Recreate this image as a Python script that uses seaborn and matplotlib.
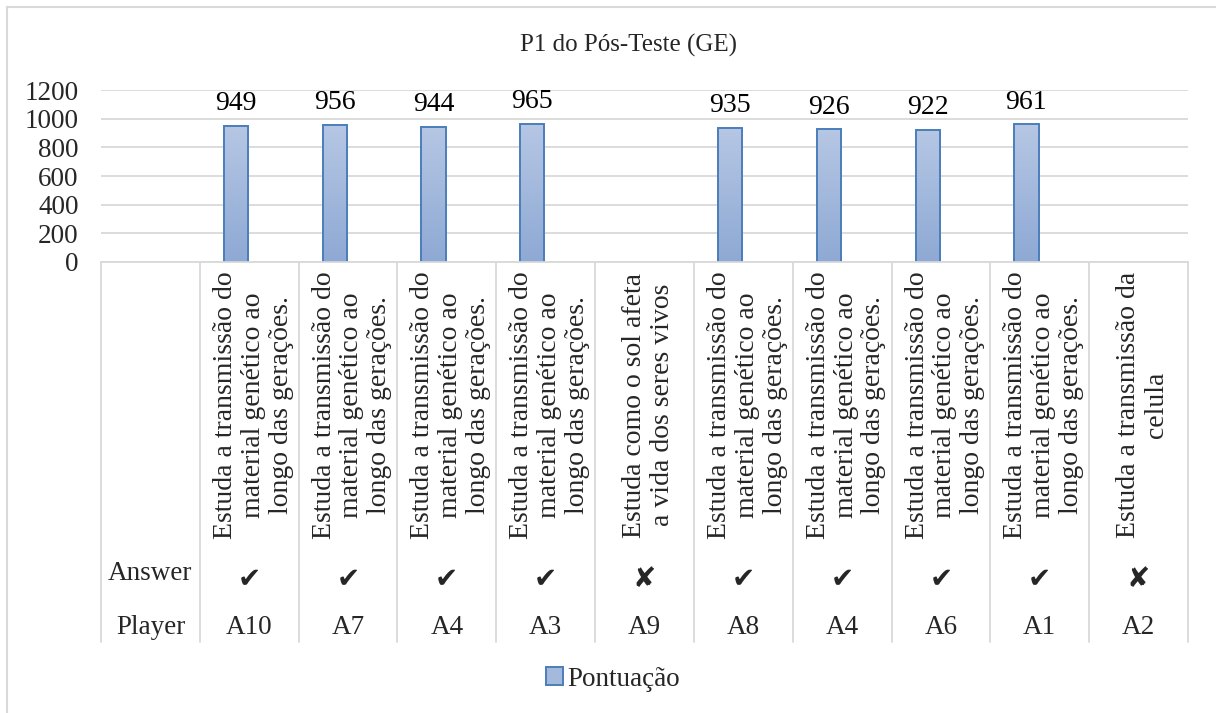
import numpy as np
import pandas as pd
import matplotlib
matplotlib.use("Agg")
import matplotlib.pyplot as plt
import matplotlib.transforms as mtransforms
from matplotlib.patches import Patch
from matplotlib.lines import Line2D
from matplotlib.colors import LinearSegmentedColormap
import seaborn as sns

# ---------------- data ----------------
title = "P1 do Pós-Teste (GE)"
row_names = ["Answer", "Player"]
players = ["A10", "A7", "A4", "A3", "A9", "A8", "A4", "A6", "A1", "A2"]
answers = [
    "Estuda a transmissão do\nmaterial genético ao\nlongo das gerações.",
    "Estuda a transmissão do\nmaterial genético ao\nlongo das gerações.",
    "Estuda a transmissão do\nmaterial genético ao\nlongo das gerações.",
    "Estuda a transmissão do\nmaterial genético ao\nlongo das gerações.",
    "Estuda como o sol afeta\na vida dos seres vivos",
    "Estuda a transmissão do\nmaterial genético ao\nlongo das gerações.",
    "Estuda a transmissão do\nmaterial genético ao\nlongo das gerações.",
    "Estuda a transmissão do\nmaterial genético ao\nlongo das gerações.",
    "Estuda a transmissão do\nmaterial genético ao\nlongo das gerações.",
    "Estuda a transmissão da\ncelula",
]
correct = [True, True, True, True, False, True, True, True, True, False]
scores = [949, 956, 944, 965, np.nan, 935, 926, 922, 961, np.nan]
series_name = "Pontuação"
yticks = [0, 200, 400, 600, 800, 1000, 1200]

# ---------------- style ----------------
W, H, DPI = 1216, 713, 100
SERIF = "Liberation Serif"
GRID = "#d9d9d9"
EDGE = "#4a7ebb"
TOP_C, BOT_C = "#b6c7e4", "#8ea9d4"
FS = 19.5

sns.set_theme(style="white")
plt.rcParams["font.family"] = [SERIF, "DejaVu Sans"]

# slot 0 is the header column (no bar)
slots = list(range(len(players) + 1))
df = pd.DataFrame({"slot": slots, "score": [np.nan] + scores})

fig = plt.figure(figsize=(W / DPI, H / DPI), dpi=DPI)
fig.patch.set_facecolor("white")

def fy(px):
    return 1 - px / H

ax_left, ax_right, ax_top, ax_bot = 101, 1188, 90, 262
ax = fig.add_axes([ax_left / W, fy(ax_bot), (ax_right - ax_left) / W, (ax_bot - ax_top) / H])

sns.barplot(data=df, x="slot", y="score", order=slots, width=0.245,
            color=BOT_C, edgecolor=EDGE, linewidth=1.4, ax=ax, errorbar=None)

ax.set_ylim(0, 1200)
ax.set_xlim(-0.5, len(slots) - 0.5)

# offset bars (Excel layout has them slightly left of the category centre)
shift = 0.135
cmap = LinearSegmentedColormap.from_list("g", [BOT_C, TOP_C])
grad = np.linspace(1, 0, 256).reshape(-1, 1)
for p in list(ax.patches):
    p.set_x(p.get_x() - shift)
    h = p.get_height()
    if np.isnan(h) or h == 0:
        continue
    x0 = p.get_x()
    im = ax.imshow(grad, cmap=cmap, extent=[x0, x0 + p.get_width(), 0, h],
                   aspect="auto", zorder=p.get_zorder() - 0.1, interpolation="bicubic")
    im.set_clip_path(p)
    p.set_facecolor("none")

ax.set_ylim(0, 1200)
ax.set_xlim(-0.5, len(slots) - 0.5)

for cont in ax.containers:
    labels = ["" if np.isnan(v) else f"{int(v)}" for v in cont.datavalues]
    ax.bar_label(cont, labels=labels, padding=7, fontsize=20, family=SERIF, color="black")

ax.set_yticks(yticks)
ax.set_yticklabels([str(t) for t in yticks], fontsize=FS, family=SERIF)
ax.tick_params(axis="y", length=0, pad=16)
ax.set_xticks([])
ax.set_xlabel("")
ax.set_ylabel("")
ax.grid(axis="y", color=GRID, linewidth=1.3)
ax.set_axisbelow(True)
for s in ["top", "right", "left"]:
    ax.spines[s].set_visible(False)
ax.spines["bottom"].set_color(GRID)
ax.spines["bottom"].set_linewidth(1.3)

# ---------------- multi-level category axis ----------------
tr = mtransforms.blended_transform_factory(ax.transData, fig.transFigure)
sep_bottom = 642
for k in range(len(slots) + 1):
    xk = k - 0.5
    fig.add_artist(Line2D([xk, xk], [fy(ax_bot), fy(sep_bottom)], transform=tr,
                          color=GRID, linewidth=1.3))

y_answer_text, y_mark, y_player = 405, 579, 627
fig.text(0, fy(574), row_names[0], transform=tr, ha="center", va="center",
         fontsize=FS, family=SERIF)
fig.text(0, fy(y_player), row_names[1], transform=tr, ha="center", va="center",
         fontsize=FS, family=SERIF)
for i, (pl, an, ok) in enumerate(zip(players, answers, correct), start=1):
    fig.text(i + 0.04, fy(y_answer_text), an, transform=tr, rotation=90,
             ha="center", va="center", multialignment="center",
             fontsize=20, family=SERIF, linespacing=1.15)
    fig.text(i, fy(y_mark), "✔" if ok else "✘", transform=tr, ha="center", va="center",
             fontsize=20, family="DejaVu Sans")
    fig.text(i, fy(y_player), pl, transform=tr, ha="center", va="center",
             fontsize=FS, family=SERIF)

# ---------------- title, legend, chart border ----------------
fig.text(628 / W, fy(45), title, ha="center", va="center", fontsize=18, family=SERIF)

handle = Patch(facecolor="#a5b9dc", edgecolor=EDGE, linewidth=1.4, label=series_name)
fig.legend(handles=[handle], loc="center", bbox_to_anchor=(613 / W, fy(679)),
           frameon=False, prop={"family": SERIF, "size": FS},
           handlelength=0.65, handleheight=0.65, handletextpad=0.15, borderpad=0)

fig.add_artist(Line2D([7 / W, 7 / W], [fy(7), 0], transform=fig.transFigure,
                      color=GRID, linewidth=1.5))
fig.add_artist(Line2D([7 / W, 1], [fy(7), fy(7)], transform=fig.transFigure,
                      color=GRID, linewidth=1.5))

fig.savefig("out.png", dpi=DPI, facecolor="white")
